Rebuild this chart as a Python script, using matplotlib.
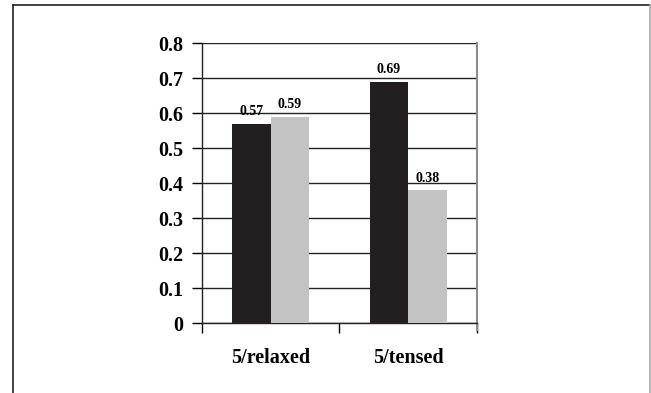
import matplotlib
matplotlib.use("Agg")
import matplotlib.pyplot as plt
from matplotlib.lines import Line2D
import numpy as np

# scores per condition, two series each
conditions = ["5/relaxed", "5/tensed"]
series_dark = [0.57, 0.69]
series_light = [0.59, 0.38]
y_ticks = [0, 0.1, 0.2, 0.3, 0.4, 0.5, 0.6, 0.7, 0.8]

plt.rcParams['font.family'] = ['Liberation Serif', 'DejaVu Serif']
plt.rcParams['font.weight'] = 'bold'

fig = plt.figure(figsize=(6.51, 3.93), dpi=100)
ax = fig.add_axes([0.3098, 0.1773, 0.4229, 0.7125])

x = np.arange(len(conditions))
w = 0.28
bars_d = ax.bar(x - w / 2, series_dark, w, color="#231f20", zorder=3)
bars_l = ax.bar(x + w / 2, series_light, w, color="#c3c3c3", zorder=3)

for rects, vals in ((bars_d, series_dark), (bars_l, series_light)):
    for r, v in zip(rects, vals):
        ax.annotate(f"{v:.2f}", (r.get_x() + r.get_width() / 2, v),
                    xytext=(0, 4), textcoords="offset points",
                    ha="center", va="bottom", fontsize=10, fontweight="bold")

ax.set_xlim(-0.5, len(conditions) - 0.5)
ax.set_ylim(0, 0.8)
ax.set_yticks(y_ticks)
ax.set_yticklabels([f"{t:g}" for t in y_ticks])
ax.yaxis.grid(True, color="#222222", linewidth=1.0, zorder=0)
ax.set_axisbelow(True)

# category boundaries as ticks, names centered in between
ax.set_xticks(np.arange(len(conditions) + 1) - 0.5)
ax.set_xticklabels([])
ax.set_xticks(x, minor=True)
ax.set_xticklabels(conditions, minor=True)
ax.tick_params(axis="x", which="major", direction="out", length=7, width=1)
ax.tick_params(axis="x", which="minor", length=0, pad=18, labelsize=14.5)
ax.tick_params(axis="y", direction="out", length=7, width=1, pad=6, labelsize=14.5)

for s in ("left", "bottom"):
    ax.spines[s].set_color("#222222")
    ax.spines[s].set_linewidth(1.0)
ax.spines["top"].set_visible(False)
ax.spines["right"].set_color("#8c8c8c")
ax.spines["right"].set_linewidth(1.5)
ax.spines["right"].set_bounds(-0.02, 0.8)
ax.spines["right"].set_clip_on(False)

# outer frame
W, H = 651, 393
fx = lambda px: px / W
fy = lambda py: 1 - py / H
fig.add_artist(Line2D([fx(13), fx(13)], [fy(5), 0], color="#222222", lw=1.2))
fig.add_artist(Line2D([fx(13), fx(650)], [fy(5), fy(5)], color="#222222", lw=1.2))
fig.add_artist(Line2D([fx(650), fx(650)], [fy(5), 0], color="#aaaaaa", lw=1.2))

fig.savefig("out.png", dpi=100)
